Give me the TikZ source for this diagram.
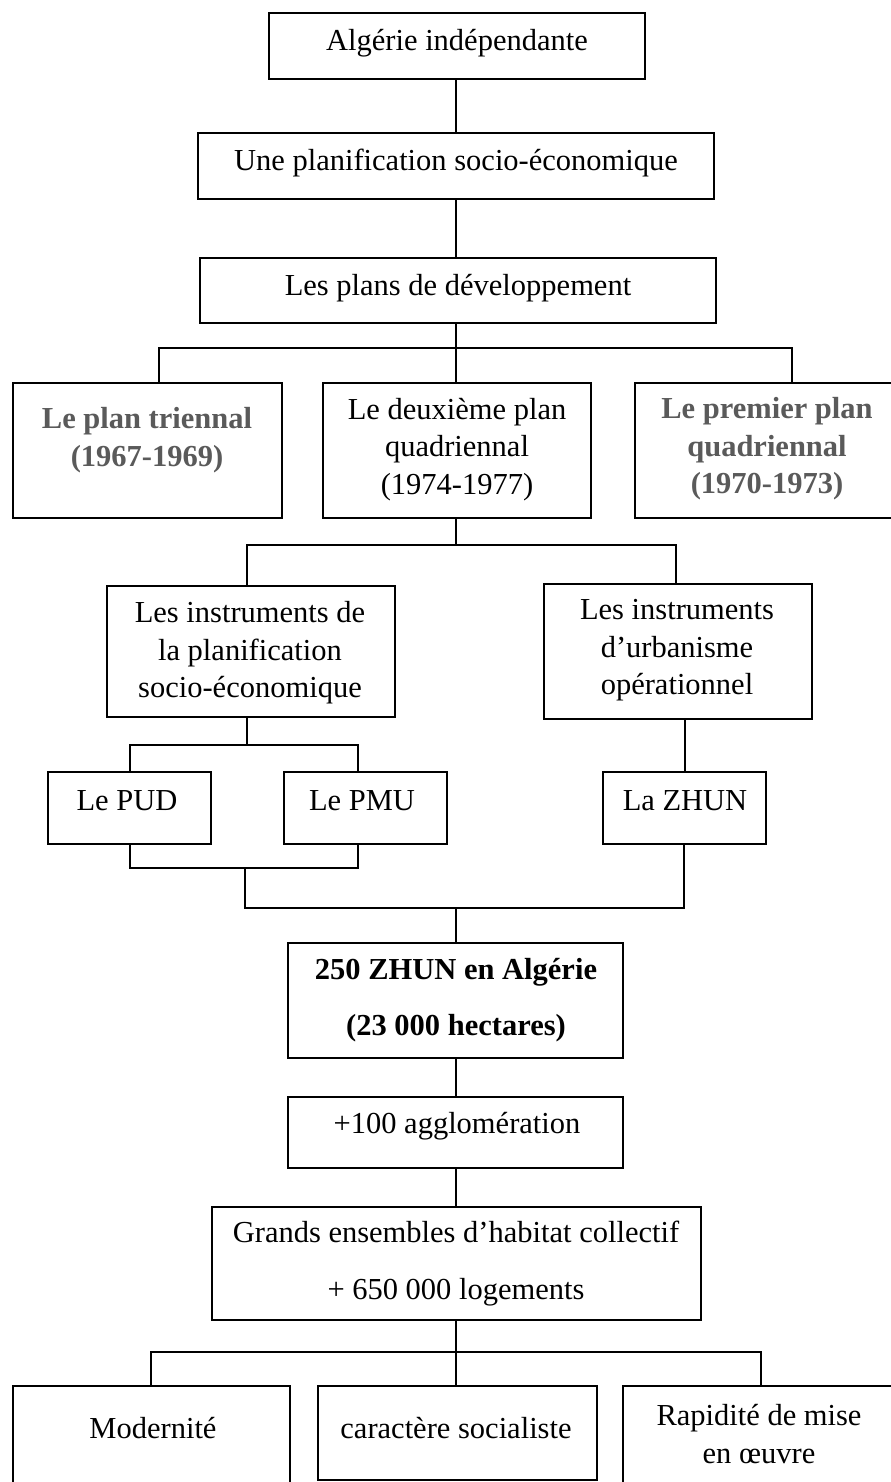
\documentclass[tikz,border=0pt]{standalone}
\usepackage{fontspec}
\setmainfont{Liberation Serif}
\definecolor{boldgray}{HTML}{5A5A5A}
\newcommand{\fsz}{\fontsize{15.25}{18.75}\selectfont}
\newcommand{\fszwide}{\fontsize{15.25}{28}\selectfont}
\tikzset{
  box/.style={draw, line width=1pt, inner sep=0pt, outer sep=0pt},
  conn/.style={draw, line width=0.9pt},
  txt/.style={align=center, inner sep=0pt, font=\fsz},
  txtwide/.style={align=center, inner sep=0pt, font=\fszwide},
  graybold/.style={text=boldgray, font=\fsz\bfseries}
}
\begin{document}
\begin{tikzpicture}[x=0.5pt, y=-0.5pt]
\useasboundingbox (0,0) rectangle (890,1482);
\fill[white] (0,0) rectangle (890,1482);

% boxes
\node[box, minimum width=188pt, minimum height=33pt] (b1) at (457,46) {};
\node[box, minimum width=258pt, minimum height=33pt] (b2) at (456,166) {};
\node[box, minimum width=258pt, minimum height=32.5pt] (b3) at (458,290.5) {};
\node[box, minimum width=134.75pt, minimum height=67.5pt] (bA) at (147.25,450.5) {};
\node[box, minimum width=134pt, minimum height=67.5pt] (bB) at (457,450.5) {};
\node[box, minimum width=132pt, minimum height=67.5pt] (bC) at (767,450.5) {};
\node[box, minimum width=144pt, minimum height=65.5pt] (bD) at (251,651.5) {};
\node[box, minimum width=134pt, minimum height=67.5pt] (bE) at (678,651.5) {};
\node[box, minimum width=81.5pt, minimum height=36pt] (bP) at (129.5,808) {};
\node[box, minimum width=81.5pt, minimum height=36pt] (bM) at (365.5,808) {};
\node[box, minimum width=81.5pt, minimum height=36pt] (bZ) at (684.5,808) {};
\node[box, minimum width=167.5pt, minimum height=57.5pt] (bF) at (455.5,1000.5) {};
\node[box, minimum width=167.5pt, minimum height=35.5pt] (bG) at (455.5,1132.5) {};
\node[box, minimum width=244.5pt, minimum height=56.5pt] (bH) at (456.5,1263.5) {};
\node[box, minimum width=138.75pt, minimum height=52pt] (bI) at (151.25,1438) {};
\node[box, minimum width=139.5pt, minimum height=47pt] (bJ) at (457.5,1433) {};
\node[box, minimum width=138pt, minimum height=52pt] (bK) at (761,1438) {};

% texts
\node[txt] (t1) at (457,43) {Algérie indépendante};
\node[txt] (t2) at (456,163) {Une planification socio-économique};
\node[txt] (t3) at (458,288) {Les plans de développement};
\node[txt, graybold] (tA) at (147,440) {Le plan triennal\\(1967-1969)};
\node[txt] (tB) at (457,449.5) {Le deuxième plan\\quadriennal\\(1974-1977)};
\node[txt, graybold] (tC) at (767,449) {Le premier plan\\quadriennal\\(1970-1973)};
\node[txt] (tD) at (250,653) {Les instruments de\\la planification\\socio-économique};
\node[txt] (tE) at (677,650.5) {Les instruments\\d’urbanisme\\opérationnel};
\node[txt] (tP) at (127,801) {Le PUD};
\node[txt] (tM) at (362,801) {Le PMU};
\node[txt] (tZ) at (685,801) {La ZHUN};
\node[txtwide, font=\fszwide\bfseries] (tF) at (456,1000) {250 ZHUN en Algérie\\(23 000 hectares)};
\node[txt] (tG) at (457,1126) {+100 agglomération};
\node[txt, font=\fontsize{15.25}{28.5}\selectfont] (tH) at (456,1264) {Grands ensembles d’habitat collectif\\+ 650 000 logements};
\node[txt] (tI) at (153,1428) {Modernité};
\node[txt] (tJ) at (456,1428) {caractère socialiste};
\node[txt] (tK) at (759,1434) {Rapidité de mise\\en œuvre};

% junction coordinates
\coordinate (j1) at (456,348);
\coordinate (jA) at (159,348);
\coordinate (jC) at (792,348);
\coordinate (j2) at (456,545);
\coordinate (jD) at (247,545);
\coordinate (jE) at (676,545);
\coordinate (jDm) at (247,745);
\coordinate (jP) at (130,745);
\coordinate (jM) at (358,745);
\coordinate (jZ) at (685,772);
\coordinate (kP) at (130,868);
\coordinate (kM) at (358,868);
\coordinate (kPM) at (245,868);
\coordinate (kL) at (245,908);
\coordinate (kR) at (684,908);
\coordinate (kC) at (456,908);
\coordinate (m) at (456,1352);
\coordinate (mI) at (151,1352);
\coordinate (mK) at (761,1352);

% connectors
\draw[conn] (b1.south -| j1) -- (b2.north -| j1);
\draw[conn] (b2.south -| j1) -- (b3.north -| j1);
\draw[conn] (b3.south -| j1) -- (bB.north -| j1);
\draw[conn] (bA.north -| jA) -- (jA) -- (jC) -- (bC.north -| jC);
\draw[conn] (bB.south -| j2) -- (j2);
\draw[conn] (bD.north -| jD) -- (jD) -- (jE) -- (bE.north -| jE);
\draw[conn] (bD.south -| jDm) -- (jDm);
\draw[conn] (bP.north -| jP) -- (jP) -- (jM) -- (bM.north -| jM);
\draw[conn] (bE.south -| jZ) -- (bZ.north -| jZ);
\draw[conn] (bP.south -| kP) -- (kP) -- (kM) -- (bM.south -| kM);
\draw[conn] (kPM) -- (kL) -- (kR) -- (bZ.south -| kR);
\draw[conn] (kC) -- (bF.north -| kC);
\draw[conn] (bF.south -| kC) -- (bG.north -| kC);
\draw[conn] (bG.south -| kC) -- (bH.north -| kC);
\draw[conn] (bH.south -| m) -- (bJ.north -| m);
\draw[conn] (bI.north -| mI) -- (mI) -- (mK) -- (bK.north -| mK);
\end{tikzpicture}
\end{document}
